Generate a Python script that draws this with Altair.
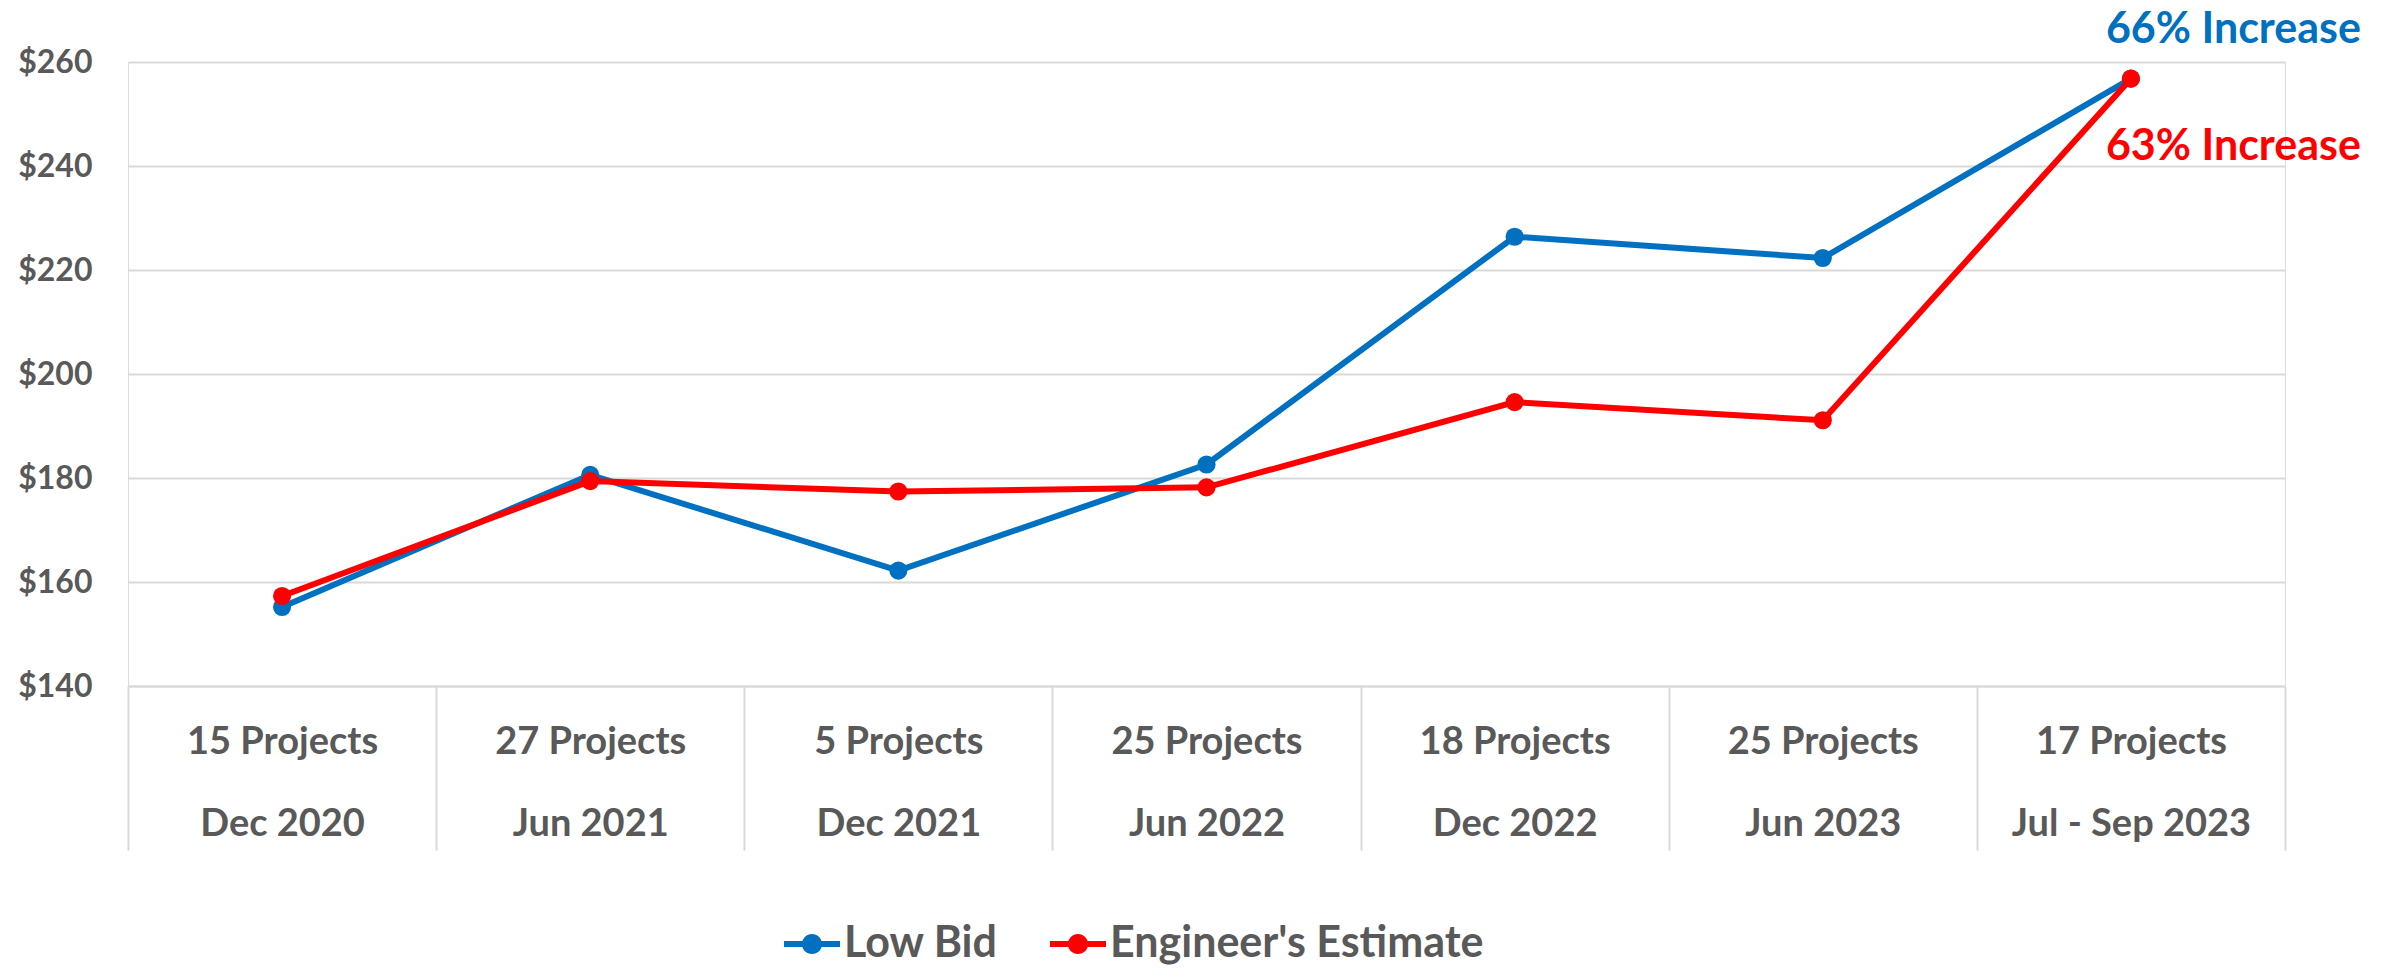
import altair as alt
import pandas as pd

projects = ["15 Projects", "27 Projects", "5 Projects", "25 Projects",
            "18 Projects", "25 Projects", "17 Projects"]
periods = ["Dec 2020", "Jun 2021", "Dec 2021", "Jun 2022",
           "Dec 2022", "Jun 2023", "Jul - Sep 2023"]
low_bid = [155.2, 180.6, 162.2, 182.6, 226.4, 222.3, 256.8]
eng_est = [157.3, 179.4, 177.4, 178.2, 194.6, 191.1, 256.8]
series_names = ["Low Bid", "Engineer's Estimate"]
series_colors = ["#0070C0", "#FF0000"]
y_ticks = [140, 160, 180, 200, 220, 240, 260]
notes = ["66% Increase", "63% Increase"]

cats = [f"{p}|{d}" for p, d in zip(projects, periods)]
rows = []
for i, (name, vals) in enumerate(zip(series_names, [low_bid, eng_est])):
    for c, v in zip(cats, vals):
        rows.append({"cat": c, "value": v, "series": name, "order": i})
df = pd.DataFrame(rows)

note_df = pd.DataFrame({
    "cat": [cats[-1], cats[-1]],
    "value": [low_bid[-1], eng_est[-1]],
    "series": series_names,
    "text": notes,
})

GRAY = "#595959"
GRID = "#D9D9D9"

color_scale = alt.Scale(domain=series_names, range=series_colors)

x_enc = alt.X(
    "cat:N", sort=cats, bandPosition=0.5,
    scale=alt.Scale(type="band", paddingInner=0, paddingOuter=0),
    axis=alt.Axis(
        title=None, orient="bottom",
        labelExpr="split(datum.label, '|')",
        labelFont="Lato", labelFontSize=38, labelFontWeight="bold",
        labelColor=GRAY, labelLineHeight=82, labelBaseline="middle",
        labelPadding=-108, labelAngle=0, labelLimit=0,
        ticks=True, tickBand="extent", tickSize=164, tickColor=GRID, tickWidth=2,
        domainColor=GRID, domainWidth=2, grid=False,
    ),
)
y_enc = alt.Y(
    "value:Q",
    scale=alt.Scale(domain=[140, 260], nice=False, zero=False),
    axis=alt.Axis(
        title=None, values=y_ticks, labelExpr="'$' + datum.value",
        labelFont="Lato", labelFontSize=32, labelFontWeight="bold",
        labelColor=GRAY, labelPadding=36, ticks=False, domain=False,
        grid=True, gridColor=GRID, gridWidth=2,
    ),
)

legend_path = ("M-1,-0.105L1,-0.105L1,0.105L-1,0.105Z"
               "M0.36,0A0.36,0.36,0,1,1,-0.36,0A0.36,0.36,0,1,1,0.36,0Z")

legend = alt.Legend(
    title=None, orient="none", direction="horizontal",
    legendX=656, legendY=854, padding=0,
    symbolType=legend_path, symbolSize=3136, symbolStrokeWidth=0,
    symbolOpacity=1,
    labelFont="Lato", labelFontSize=43, labelFontWeight="bold",
    labelColor=GRAY, labelOffset=4, columnPadding=52, labelLimit=0,
)

lines = alt.Chart(df).mark_line(strokeWidth=6).encode(
    x=x_enc, y=y_enc,
    color=alt.Color("series:N", scale=color_scale, legend=legend),
    detail="order:O",
)
points = alt.Chart(df).mark_point(filled=True, size=330, opacity=1).encode(
    x=x_enc, y=y_enc,
    color=alt.Color("series:N", scale=color_scale, legend=legend),
    order=alt.Order("order:Q"),
)

note_common = dict(align="right", baseline="middle", font="Lato",
                   fontSize=43, fontWeight="bold", dx=230)
note_blue = alt.Chart(note_df).transform_filter(
    alt.datum.series == series_names[0]
).mark_text(dy=-49, **note_common).encode(
    x=x_enc, y=y_enc, text="text:N",
    color=alt.Color("series:N", scale=color_scale, legend=legend),
)
note_red = alt.Chart(note_df).transform_filter(
    alt.datum.series == series_names[1]
).mark_text(dy=68, **note_common).encode(
    x=x_enc, y=y_enc, text="text:N",
    color=alt.Color("series:N", scale=color_scale, legend=legend),
)

chart = alt.layer(lines, points, note_blue, note_red).properties(
    width=2157, height=624,
    autosize=alt.AutoSizeParams(type="none"),
    padding={"left": 120, "top": 54, "right": 88, "bottom": 279},
).configure_view(stroke=None).configure(background="white")

chart.save("out.html", embed_options={"renderer": "svg", "actions": False})
